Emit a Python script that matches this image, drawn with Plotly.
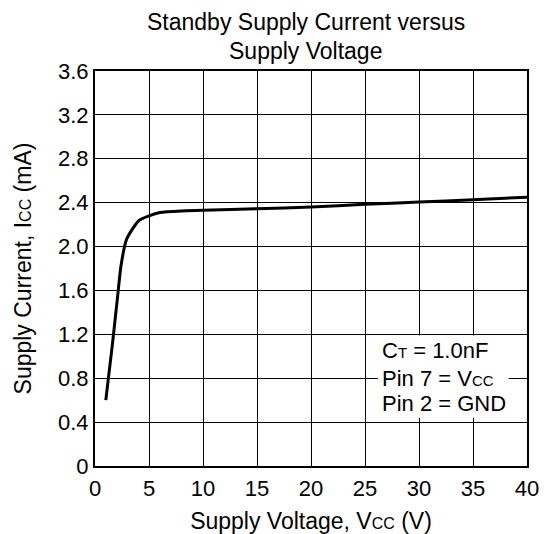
import plotly.graph_objects as go

# Data
supply_voltage = [1.0, 1.6, 2.1, 2.4, 2.9, 3.4, 4.1, 5.0, 6.0, 8.0, 10, 15, 20, 25, 30, 35, 40]
supply_current = [0.60, 1.10, 1.55, 1.82, 2.06, 2.15, 2.24, 2.28, 2.31, 2.325, 2.33, 2.345, 2.36, 2.385, 2.405, 2.427, 2.45]

x_ticks = [0, 5, 10, 15, 20, 25, 30, 35, 40]
y_ticks = [0, 0.4, 0.8, 1.2, 1.6, 2.0, 2.4, 2.8, 3.2, 3.6]
y_tick_text = ["0", "0.4", "0.8", "1.2", "1.6", "2.0", "2.4", "2.8", "3.2", "3.6"]

FONT = "Liberation Sans, Arial, Helvetica, sans-serif"
FS = 22
FT = 23


def small(t, size=15):
    return f"<span style='font-size:{size}px'>{t}</span>"


title_lines = ["Standby Supply Current versus", "Supply Voltage"]
note_lines = [f"C{small('T')} = 1.0nF", f"Pin 7 = V{small('CC')}", "Pin 2 = GND"]
x_title = f"Supply Voltage, V{small('CC', 16)} (V)"
y_title = f"Supply Current, I{small('CC', 16)} (mA)"

fig = go.Figure()
fig.add_trace(go.Scatter(
    x=supply_voltage, y=supply_current, mode="lines",
    line=dict(color="black", width=3, shape="spline", smoothing=0.6),
    hoverinfo="skip", showlegend=False,
))

# page body adds an 8px offset, so the figure is 8px smaller and shifted
fig.update_layout(
    width=540, height=526,
    margin=dict(l=87, r=21, t=63, b=68),
    paper_bgcolor="white", plot_bgcolor="white",
    font=dict(family=FONT, size=FS, color="black"),
    xaxis=dict(
        range=[0, 40], tickvals=x_ticks, showgrid=True, gridcolor="black", gridwidth=1,
        showline=True, linecolor="black", linewidth=2, mirror=True, automargin=False,
        ticks="", zeroline=False, tickfont=dict(size=FS), ticklabelstandoff=2,
        title=dict(text=x_title, font=dict(size=FT), standoff=16),
    ),
    yaxis=dict(
        range=[0, 3.6], tickvals=y_ticks, ticktext=y_tick_text, showgrid=True,
        gridcolor="black", gridwidth=1, automargin=False,
        showline=True, linecolor="black", linewidth=2, mirror=True,
        ticks="", zeroline=False, tickfont=dict(size=FS),
        title=dict(text=y_title, font=dict(size=FT), standoff=20),
    ),
)

# title lines
for txt, yy in zip(title_lines, [1.124, 1.050]):
    fig.add_annotation(x=0.488, y=yy, xref="paper", yref="paper", text=txt, showarrow=False,
                       xanchor="center", yanchor="middle", font=dict(size=FT))

# white box behind the note
fig.add_shape(type="rect", xref="x", yref="y", x0=26.2, x1=38.3, y0=0.44, y1=1.19,
              fillcolor="white", line=dict(width=0), layer="above")

note_y = [1.056, 0.80, 0.572]
for txt, yy in zip(note_lines, note_y):
    fig.add_annotation(x=26.4, y=yy, xref="x", yref="y", text=txt, showarrow=False,
                       xanchor="left", yanchor="middle", font=dict(size=FS))

fig.write_html("out.html")
